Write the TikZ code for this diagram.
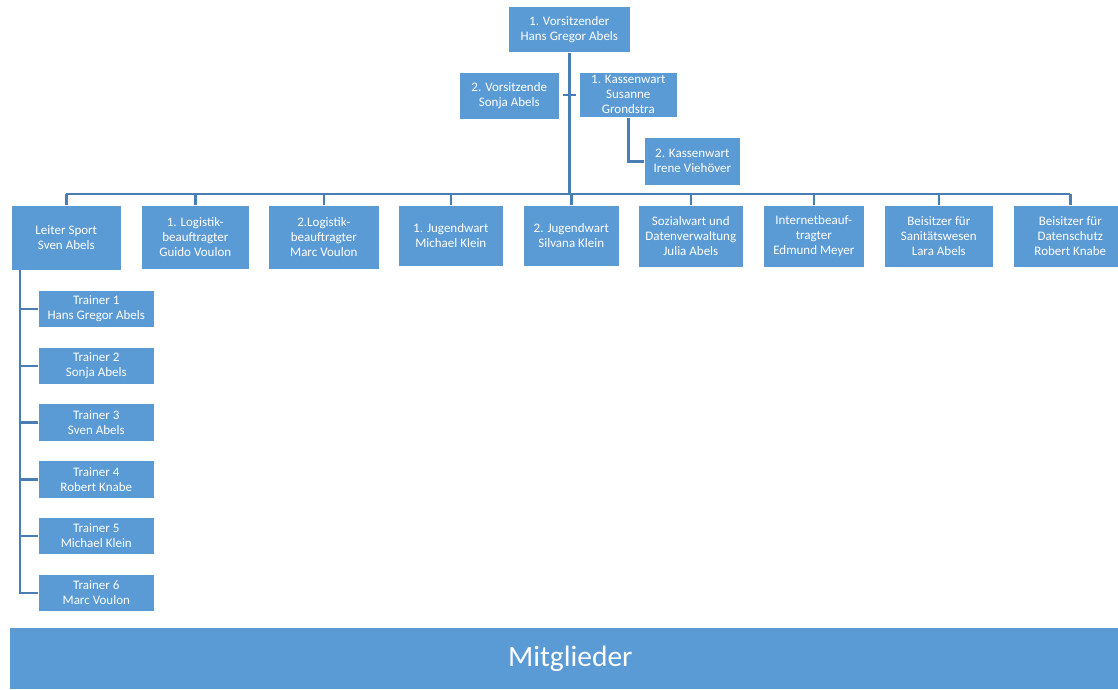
\documentclass[tikz,border=0pt]{standalone}
\usepackage{fontspec}
\setmainfont{Carlito}
\definecolor{boxblue}{HTML}{5B9BD5}
\definecolor{lineblue}{HTML}{4A7DB3}
\begin{document}
\begin{tikzpicture}[x=1pt,y=-1pt,
  box/.style={fill=boxblue, draw=white, line width=0.6pt, text=white, align=center,
    inner sep=0pt, anchor=north west, font=\fontsize{13}{15}\selectfont},
  conn/.style={draw=lineblue, line width=2.6pt}]
\useasboundingbox (0,0) rectangle (1118,689);
\clip (0,0) rectangle (1118,689);
% connectors first
\coordinate (bar) at (0,194);
\coordinate (tL) at (563,95);
\coordinate (tR) at (576,95);
\coordinate (trk) at (20,270);
% top
\node[box, minimum width=122, minimum height=46] (v1) at (508,6) {1. Vorsitzender\\Hans Gregor Abels};
\node[box, minimum width=100, minimum height=47] (v2) at (459,72) {2. Vorsitzende\\Sonja Abels};
\node[box, minimum width=98, minimum height=45] (k1) at (579,72) {1. Kassenwart\\Susanne\\Grondstra};
\node[box, minimum width=96, minimum height=48] (k2) at (644,137) {2. Kassenwart\\Irene Viehöver};
% level 2
\node[box, minimum width=110, minimum height=65] (l1) at (11,205) {Leiter Sport\\Sven Abels};
\node[box, minimum width=108, minimum height=64] (l2) at (141,205) {1. Logistik-\\beauftragter\\Guido Voulon};
\node[box, minimum width=111, minimum height=64] (l3) at (268,205) {2.Logistik-\\beauftragter\\Marc Voulon};
\node[box, minimum width=105, minimum height=61] (l4) at (398,205) {1. Jugendwart\\Michael Klein};
\node[box, minimum width=96, minimum height=61] (l5) at (523,205) {2. Jugendwart\\Silvana Klein};
\node[box, minimum width=105, minimum height=62] (l6) at (638,205) {Sozialwart und\\Datenverwaltung\\Julia Abels};
\node[box, minimum width=101, minimum height=62] (l7) at (763,205) {Internetbeauf-\\tragter\\Edmund Meyer};
\node[box, minimum width=109, minimum height=62] (l8) at (884,205) {Beisitzer für\\Sanitätswesen\\Lara Abels};
\node[box, minimum width=114, minimum height=62] (l9) at (1013,205) {Beisitzer für\\Datenschutz\\Robert Knabe};
% trainers
\node[box, minimum width=116, minimum height=37] (t1) at (38,290) {Trainer 1\\Hans Gregor Abels};
\node[box, minimum width=116, minimum height=37] (t2) at (38,347) {Trainer 2\\Sonja Abels};
\node[box, minimum width=116, minimum height=38] (t3) at (38,403) {Trainer 3\\Sven Abels};
\node[box, minimum width=116, minimum height=38] (t4) at (38,460) {Trainer 4\\Robert Knabe};
\node[box, minimum width=116, minimum height=37] (t5) at (38,517) {Trainer 5\\Michael Klein};
\node[box, minimum width=116, minimum height=37] (t6) at (38,574) {Trainer 6\\Marc Voulon};
% Mitglieder
\node[box, minimum width=1122, minimum height=62, font=\fontsize{29.5}{33}\selectfont] (mg) at (9,627) {Mitglieder};
% connector lines
\draw[conn] (v1.south) -- (v1.south |- bar);
\draw[conn] (tL) -- (tR);
\draw[conn] (k1.south) |- (k2.west);
\draw[conn] (l1.north |- bar) -- (l9.north |- bar);
\foreach \n in {l1,l2,l3,l4,l5,l6,l7,l8,l9}{
  \draw[conn] (\n.north |- bar) -- (\n.north);
}
\draw[conn] (trk) |- (t6.west);
\foreach \n in {t1,t2,t3,t4,t5}{
  \draw[conn] (trk |- \n.west) -- (\n.west);
}
\end{tikzpicture}
\end{document}
